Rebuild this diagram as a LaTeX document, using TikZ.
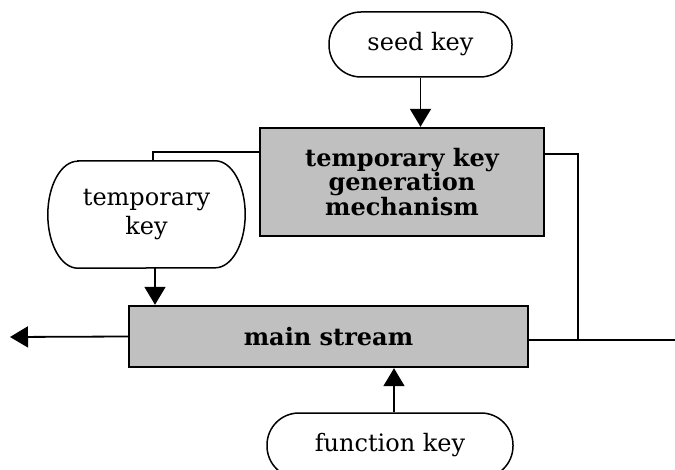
\documentclass[tikz,border=0pt]{standalone}
\usepackage{fontspec}
\setmainfont{DejaVu Serif}
\usetikzlibrary{arrows.meta}
\begin{document}
\begin{tikzpicture}[x=1pt,y=-1pt,
  stad/.style={draw, line width=1.5pt, rounded corners=32pt, fill=white, align=center, font=\fontsize{24}{29}\selectfont},
  box/.style={draw, line width=2.4pt, fill=boxgray, align=center, font=\fontsize{24}{21.5}\selectfont\bfseries},
  conn/.style={line width=1.8pt},
  arr/.style={conn, -{Triangle[length=18pt,width=21pt]}}]
\definecolor{boxgray}{HTML}{C0C0C0}
\useasboundingbox (0,0) rectangle (675,470);
\clip (0,0) rectangle (675,470);
\node[stad, minimum width=183pt, minimum height=65pt] (seed) at (420.5,44.5) {seed key};
\node[box, minimum width=284pt, minimum height=108pt] (gen) at (402,182) {temporary key\\generation\\mechanism};
\node[align=center, minimum width=197pt, minimum height=107pt, font=\fontsize{24}{29}\selectfont] (tk) at (146.5,214.5) {temporary\\key};
\draw[line width=1.5pt] ([xshift=30pt]tk.north west) -- ([xshift=-30pt]tk.north east)
  arc[start angle=90,end angle=-90,x radius=30pt,y radius=53.5pt]
  -- ([xshift=30pt]tk.south west)
  arc[start angle=270,end angle=90,x radius=30pt,y radius=53.5pt] -- cycle;
\node[box, minimum width=399pt, minimum height=61pt] (main) at (328.5,336.5) {main stream};
\node[stad, minimum width=246pt, minimum height=65pt] (fk) at (390,445.5) {function key};
\coordinate (out) at (10,337);
\coordinate (rend) at (675,340);
\coordinate (j) at (578,340);
\draw[arr] (seed.south) -- (seed.south |- gen.north);
\draw[conn] ([yshift=30pt]gen.west) -| ([xshift=6.5pt]tk.north);
\draw[arr] ([xshift=8.5pt]tk.south) -- ([xshift=8.5pt]tk.south |- main.north);
\draw[arr] (main.west) -- (out);
\draw[conn] ([yshift=-3.5pt]main.east) -- (rend);
\draw[conn] ([yshift=28pt]gen.east) -| (j);
\draw[arr] ([xshift=4pt]fk.north) -- ([xshift=4pt]fk.north |- main.south);
\end{tikzpicture}
\end{document}
